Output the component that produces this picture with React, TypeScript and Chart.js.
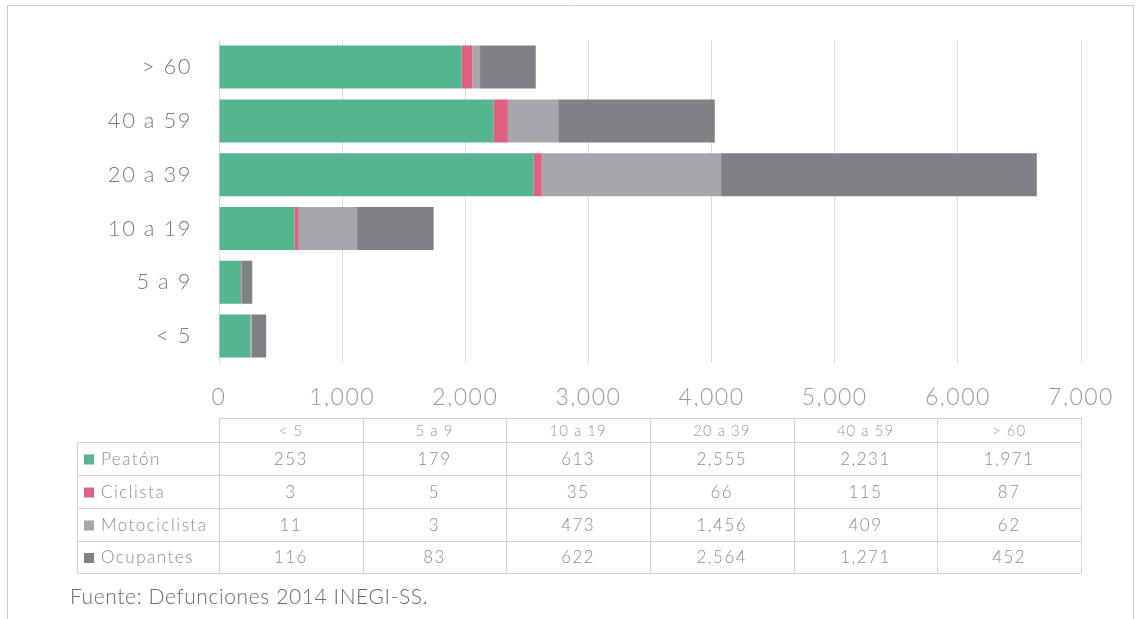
import React, { useEffect, useRef } from "react";
import { Chart, registerables } from "chart.js";

Chart.register(...registerables);

// Data (table order: youngest to oldest)
const ageGroups = ["< 5", "5 a 9", "10 a 19", "20 a 39", "40 a 59", "> 60"];
const seriesNames = ["Peatón", "Ciclista", "Motociclista", "Ocupantes"];
const peaton = [253, 179, 613, 2555, 2231, 1971];
const ciclista = [3, 5, 35, 66, 115, 87];
const motociclista = [11, 3, 473, 1456, 409, 62];
const ocupantes = [116, 83, 622, 2564, 1271, 452];
const seriesColors = ["#55b591", "#e0607e", "#a5a7ab", "#808186"];
const xTicks = [0, 1000, 2000, 3000, 4000, 5000, 6000, 7000];
const sourceText = "Fuente: Defunciones 2014 INEGI-SS.";

const FONT = "Lato, 'Open Sans', 'DejaVu Sans', sans-serif";

export default function App() {
  const ref = useRef<HTMLCanvasElement>(null);

  useEffect(() => {
    if (!ref.current) return;
    const allSeries = [peaton, ciclista, motociclista, ocupantes];
    const chartLabels = [...ageGroups].reverse();

    const spacing = {
      id: "spacing",
      beforeUpdate(chart: any) {
        (chart.ctx as any).letterSpacing = "1.5px";
      },
      beforeDraw(chart: any) {
        (chart.ctx as any).letterSpacing = "1.5px";
        const ctx = chart.ctx;
        ctx.save();
        ctx.fillStyle = "#ffffff";
        ctx.fillRect(0, 0, chart.width, chart.height);
        ctx.restore();
      },
    };

    const tablePlugin = {
      id: "dataTable",
      afterDraw(chart: any) {
        const ctx = chart.ctx as CanvasRenderingContext2D;
        const { left, right } = chart.chartArea;
        const colW = (right - left) / ageGroups.length;
        const labelLeft = 77;
        const headTop = 418;
        const rowTops = [442, 475, 508, 541, 573];
        ctx.save();
        (ctx as any).letterSpacing = "1px";
        ctx.strokeStyle = "#d2d2d2";
        ctx.lineWidth = 1;
        const hline = (x0: number, x1: number, y: number) => {
          ctx.beginPath();
          ctx.moveTo(x0, Math.round(y) + 0.5);
          ctx.lineTo(x1, Math.round(y) + 0.5);
          ctx.stroke();
        };
        const vline = (x: number, y0: number, y1: number) => {
          ctx.beginPath();
          ctx.moveTo(Math.round(x) + 0.5, y0);
          ctx.lineTo(Math.round(x) + 0.5, y1);
          ctx.stroke();
        };
        hline(left, right, headTop);
        rowTops.forEach((y) => hline(labelLeft, right, y));
        vline(labelLeft, rowTops[0], rowTops[4]);
        for (let i = 0; i <= ageGroups.length; i++) {
          vline(left + i * colW, headTop, rowTops[4]);
        }
        // header
        ctx.textAlign = "center";
        ctx.textBaseline = "middle";
        ctx.fillStyle = "#9a9a9a";
        ctx.font = `300 15px ${FONT}`;
        ageGroups.forEach((g, i) => {
          ctx.fillText(g, left + (i + 0.5) * colW, (headTop + rowTops[0]) / 2 + 1);
        });
        // rows
        allSeries.forEach((vals, r) => {
          const yc = (rowTops[r] + rowTops[r + 1]) / 2 + 1;
          ctx.fillStyle = seriesColors[r];
          ctx.fillRect(labelLeft + 7, yc - 5, 10, 10);
          ctx.textAlign = "left";
          ctx.fillStyle = "#8c8c8c";
          ctx.font = `300 17px ${FONT}`;
          (ctx as any).letterSpacing = "1.5px";
          ctx.fillText(seriesNames[r], labelLeft + 24, yc);
          ctx.textAlign = "center";
          vals.forEach((v, i) => {
            ctx.fillText(v.toLocaleString("en-US"), left + (i + 0.5) * colW, yc);
          });
        });
        // source
        ctx.textAlign = "left";
        ctx.fillStyle = "#6a6a6a";
        ctx.font = `300 21px ${FONT}`;
        (ctx as any).letterSpacing = "0.6px";
        ctx.fillText(sourceText, 70, 597);
        // frame
        ctx.strokeStyle = "#cccccc";
        hline(7, 1134, 5);
        vline(7, 5, 619);
        vline(1133, 5, 619);
        ctx.restore();
      },
    };

    const chart = new Chart(ref.current, {
      type: "bar",
      data: {
        labels: chartLabels,
        datasets: seriesNames.map((name, i) => ({
          label: name,
          data: [...allSeries[i]].reverse(),
          backgroundColor: seriesColors[i],
          borderWidth: 0,
          categoryPercentage: 0.8,
          barPercentage: 1.0,
        })),
      },
      options: {
        indexAxis: "y",
        animation: false,
        responsive: false,
        maintainAspectRatio: false,
        layout: { padding: { left: 0, right: 59, top: 40, bottom: 212 } },
        plugins: {
          legend: { display: false },
          tooltip: { enabled: false },
          title: { display: false },
        },
        scales: {
          x: {
            stacked: true,
            min: 0,
            max: 7000,
            afterFit(scale: any) {
              scale.height = 44;
            },
            afterBuildTicks(scale: any) {
              scale.ticks = xTicks.map((v) => ({ value: v }));
            },
            grid: { color: "#dcdcdc", lineWidth: 1, drawTicks: false },
            border: { display: false },
            ticks: {
              padding: 21,
              color: "#9a9a9a",
              font: { family: FONT, size: 23, weight: "300" as any },
              callback: (v: any) => Number(v).toLocaleString("en-US"),
            },
          },
          y: {
            stacked: true,
            afterFit(scale: any) {
              scale.width = 219;
            },
            grid: { display: false, drawTicks: false },
            border: { display: false },
            ticks: {
              padding: 27,
              color: "#7a7a7a",
              font: { family: FONT, size: 22, weight: "300" as any },
            },
          },
        },
      },
      plugins: [spacing, tablePlugin],
    });
    return () => chart.destroy();
  }, []);

  return (
    <div style={{ position: "absolute", left: 0, top: 0, width: 1140, height: 619, background: "#fff" }}>
      <canvas ref={ref} width={1140} height={619} style={{ width: 1140, height: 619, display: "block" }} />
    </div>
  );
}
